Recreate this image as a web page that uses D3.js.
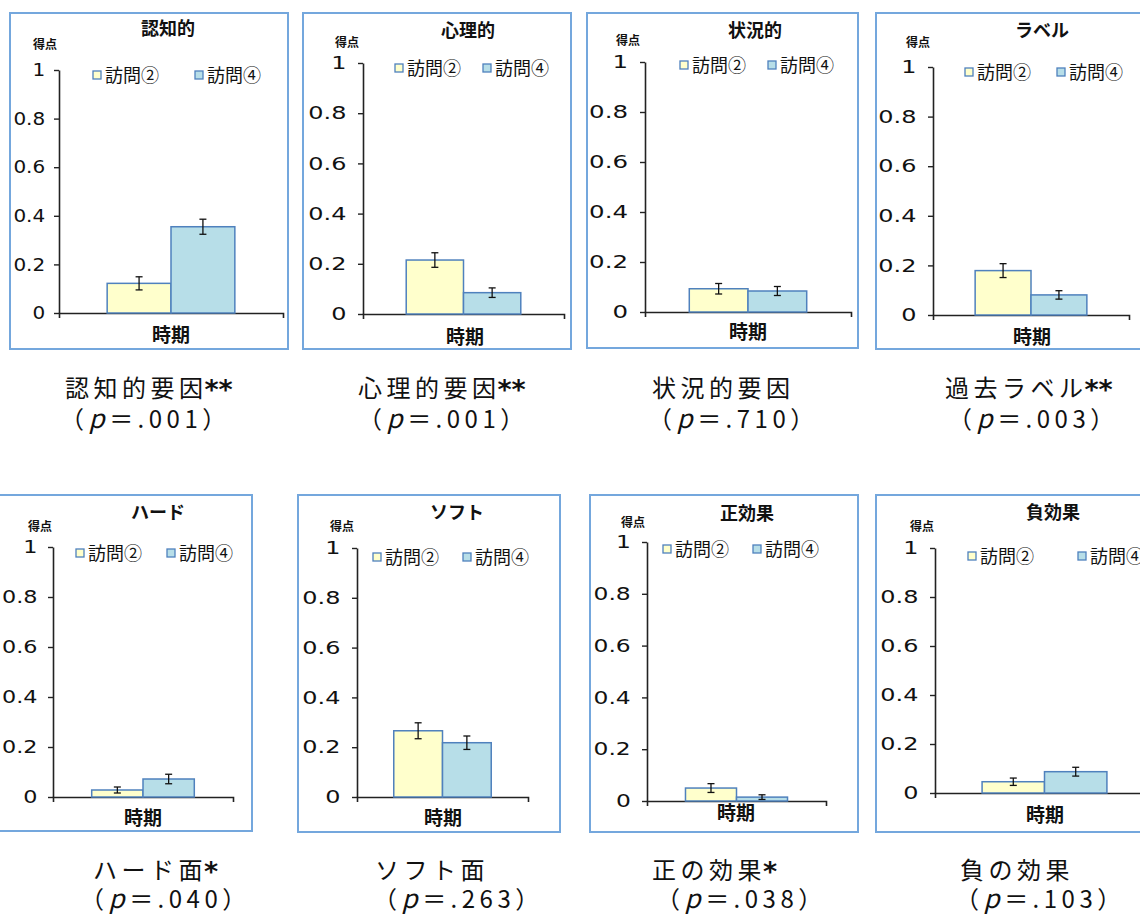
<!DOCTYPE html>
<html lang="ja">
<head>
<meta charset="utf-8">
<script src="https://cdn.jsdelivr.net/npm/d3@7"></script>
<style>
  html, body { margin: 0; padding: 0; background: #ffffff; }
  svg { display: block; }
  .cjk { font-family: "Noto Sans CJK JP", "Noto Sans", sans-serif; }
  .tick text { font-family: "DejaVu Sans", Verdana, sans-serif; }
</style>
</head>
<body>
<svg id="chart" width="1140" height="915"></svg>
<script>
// ---- data ----------------------------------------------------------
const panelTitles = ["認知的", "心理的", "状況的", "ラベル", "ハード", "ソフト", "正効果", "負効果"];
const factorNames = ["認知的要因", "心理的要因", "状況的要因", "過去ラベル", "ハード面", "ソフト面", "正の効果", "負の効果"];
const significance = ["**", "**", "", "**", "*", "", "*", ""];
const pValues = [".001", ".001", ".710", ".003", ".040", ".263", ".038", ".103"];
const seriesNames = ["訪問②", "訪問④"];
const visit2Mean = [0.122, 0.215, 0.093, 0.179, 0.028, 0.266, 0.050, 0.046];
const visit4Mean = [0.355, 0.085, 0.084, 0.081, 0.072, 0.218, 0.015, 0.087];
const visit2Err = [0.027, 0.029, 0.021, 0.028, 0.012, 0.032, 0.017, 0.015];
const visit4Err = [0.031, 0.019, 0.018, 0.017, 0.019, 0.027, 0.009, 0.018];
const yTicks = [0, 0.2, 0.4, 0.6, 0.8, 1];
const yTickLabels = ["0", "0.2", "0.4", "0.6", "0.8", "1"];
const xCategory = "時期";
const yUnit = "得点";

// ---- layout of each small chart -----------------------------------
// box: frame; ax/axEnd: y-axis x and x-axis end; y0/y1: pixel rows of 0 and 1
// title, unit, legend (two swatch x's and a row), xTitle, caption anchors,
// tw: horizontal stretch of the tick numerals
const layout = [
  { box: [10, 13, 278, 336], ax: 59, axEnd: 283, y0: 313, y1: 70, title: [168, 28], unit: [45, 45], leg: [93, 195, 75], xt: [171, 335], cap: [65, 60, 397, 428], tw: 1.11 },
  { box: [303, 13, 268, 336], ax: 363, axEnd: 564, y0: 314, y1: 63, title: [468, 30], unit: [347, 43], leg: [395, 483, 68], xt: [465, 337], cap: [358, 358, 397, 428], tw: 1.33 },
  { box: [587, 13, 271, 335], ax: 645, axEnd: 851, y0: 312, y1: 62, title: [755, 30], unit: [628, 41], leg: [680, 768, 65], xt: [748, 332], cap: [652, 648, 397, 428], tw: 1.36 },
  { box: [876, 13, 300, 336], ax: 933, axEnd: 1129, y0: 315, y1: 67, title: [1042, 30], unit: [918, 43], leg: [965, 1057, 72], xt: [1032, 337], cap: [945, 948, 397, 428], tw: 1.33 },
  { box: [-30, 495, 282, 336], ax: 53, axEnd: 233, y0: 797, y1: 547, title: [158, 512], unit: [40, 527], leg: [76, 167, 553], xt: [143, 818], cap: [93, 80, 879, 908], tw: 1.24 },
  { box: [298, 495, 262, 337], ax: 357, axEnd: 528, y0: 797, y1: 548, title: [457, 512], unit: [342, 527], leg: [373, 463, 557], xt: [443, 818], cap: [375, 373, 879, 908], tw: 1.33 },
  { box: [590, 495, 268, 337], ax: 647, axEnd: 826, y0: 801, y1: 542, title: [747, 513], unit: [633, 523], leg: [663, 753, 549], xt: [736, 813], cap: [652, 656, 879, 908], tw: 1.30 },
  { box: [876, 495, 300, 337], ax: 935, axEnd: 1154, y0: 793, y1: 548, title: [1053, 512], unit: [922, 527], leg: [968, 1078, 556], xt: [1045, 815], cap: [960, 955, 879, 908], tw: 1.33 }
];

const fills = ["#FFFFCC", "#B7DEE8"];
const barStroke = "#4F81BD";
const frameStroke = "#74A7DD";
const groupFrac = 0.57;

const svg = d3.select("#chart");
svg.append("rect").attr("width", 1140).attr("height", 915).attr("fill", "#ffffff");

panelTitles.forEach((title, i) => {
  const L = layout[i];
  const g = svg.append("g");

  // frame
  g.append("rect")
    .attr("x", L.box[0]).attr("y", L.box[1])
    .attr("width", L.box[2]).attr("height", L.box[3])
    .attr("fill", "#ffffff").attr("stroke", frameStroke).attr("stroke-width", 2);

  // scales
  const y = d3.scaleLinear().domain([0, 1]).range([L.y0, L.y1]);
  const outer = (1 / groupFrac - 1) / 2;
  const x = d3.scaleBand().domain([xCategory]).range([L.ax, L.axEnd])
    .paddingInner(0).paddingOuter(outer);
  const xs = d3.scaleBand().domain(seriesNames).range([0, x.bandwidth()]).padding(0);

  // y axis
  const yAxis = d3.axisLeft(y).tickValues(yTicks)
    .tickFormat((d, k) => yTickLabels[k])
    .tickSizeInner(5).tickSizeOuter(0).tickPadding(7.5);
  const ya = g.append("g").attr("transform", `translate(${L.ax},0)`).call(yAxis);
  ya.selectAll(".domain").attr("stroke", "#222").attr("stroke-width", 1.6);
  ya.selectAll(".tick line").attr("stroke", "#222").attr("stroke-width", 1.4);
  ya.selectAll(".tick text").attr("font-size", 18).attr("fill", "#111")
    .attr("transform", `scale(${L.tw},1)`);

  // x axis with end ticks
  const xAxis = d3.axisBottom(x).tickValues([]).tickSizeOuter(5);
  const xa = g.append("g").attr("transform", `translate(0,${L.y0})`).call(xAxis);
  xa.selectAll(".domain").attr("stroke", "#222").attr("stroke-width", 1.6);

  // bars
  const means = [visit2Mean[i], visit4Mean[i]];
  const errs = [visit2Err[i], visit4Err[i]];
  const rows = seriesNames.map((s, k) => ({ s, v: means[k], e: errs[k], k }));

  g.selectAll("rect.bar").data(rows).enter().append("rect")
    .attr("class", "bar")
    .attr("x", d => x(xCategory) + xs(d.s))
    .attr("y", d => y(d.v))
    .attr("width", xs.bandwidth())
    .attr("height", d => y(0) - y(d.v))
    .attr("fill", d => fills[d.k])
    .attr("stroke", barStroke).attr("stroke-width", 1.5);

  // error bars
  const eb = g.selectAll("g.err").data(rows).enter().append("g").attr("class", "err")
    .attr("stroke", "#111").attr("stroke-width", 1.3);
  const cx = d => x(xCategory) + xs(d.s) + xs.bandwidth() / 2;
  eb.append("line").attr("x1", cx).attr("x2", cx)
    .attr("y1", d => y(d.v + d.e)).attr("y2", d => y(d.v - d.e));
  eb.append("line").attr("x1", d => cx(d) - 3.5).attr("x2", d => cx(d) + 3.5)
    .attr("y1", d => y(d.v + d.e)).attr("y2", d => y(d.v + d.e));
  eb.append("line").attr("x1", d => cx(d) - 3.5).attr("x2", d => cx(d) + 3.5)
    .attr("y1", d => y(d.v - d.e)).attr("y2", d => y(d.v - d.e));

  // title, unit, x title
  g.append("text").attr("class", "cjk")
    .attr("x", L.title[0]).attr("y", L.title[1] + 6.5)
    .attr("text-anchor", "middle").attr("font-size", 18).attr("font-weight", "bold")
    .attr("fill", "#111").text(title);
  g.append("text").attr("class", "cjk")
    .attr("x", L.unit[0]).attr("y", L.unit[1] + 4)
    .attr("text-anchor", "middle").attr("font-size", 12).attr("font-weight", "bold")
    .attr("fill", "#111").text(yUnit);
  g.append("text").attr("class", "cjk")
    .attr("x", L.xt[0]).attr("y", L.xt[1] + 7)
    .attr("text-anchor", "middle").attr("font-size", 19).attr("font-weight", "bold")
    .attr("fill", "#111").text(xCategory);

  // legend
  seriesNames.forEach((s, k) => {
    const lx = L.leg[k];
    g.append("rect").attr("x", lx).attr("y", L.leg[2] - 4).attr("width", 8).attr("height", 8)
      .attr("fill", fills[k]).attr("stroke", barStroke).attr("stroke-width", 1.3);
    g.append("text").attr("class", "cjk")
      .attr("x", lx + 12).attr("y", L.leg[2] + 6.5)
      .attr("font-size", 18).attr("fill", "#111").text(s);
  });

  // caption below the frame
  const cap = svg.append("g").attr("class", "cjk").attr("fill", "#111");
  const t1 = cap.append("text").attr("x", L.cap[0]).attr("y", L.cap[2]).attr("font-size", 24);
  t1.append("tspan").attr("letter-spacing", 4.5).text(factorNames[i]);
  if (significance[i]) {
    t1.append("tspan").attr("font-family", "DejaVu Sans, sans-serif")
      .attr("font-size", 27).attr("font-weight", "bold").attr("dx", -3).attr("dy", 2)
      .text(significance[i]);
  }
  const t2 = cap.append("text").attr("x", L.cap[1]).attr("y", L.cap[3])
    .attr("font-size", 24).attr("letter-spacing", 4.5);
  t2.append("tspan").text("（");
  t2.append("tspan").attr("font-style", "italic").attr("font-size", 26).text("p");
  t2.append("tspan").text("＝" + pValues[i] + "）");
});
</script>
</body>
</html>
